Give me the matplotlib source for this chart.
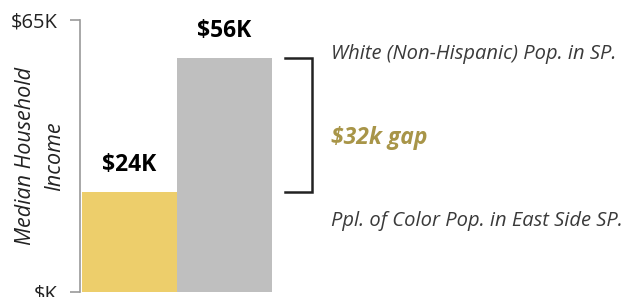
import matplotlib
matplotlib.use("Agg")
import matplotlib.pyplot as plt

# income values in $K
groups = ["Ppl. of Color Pop. in East Side SP.", "White (Non-Hispanic) Pop. in SP."]
income = [24, 56]
bar_labels = ["$24K", "$56K"]
bar_colors = ["#EDCE6B", "#BFBFBF"]
gap_label = "$32k gap"

plt.rcParams['font.family'] = ['Open Sans', 'DejaVu Sans']

fig = plt.figure(figsize=(6.33, 2.97), dpi=100)
ax = fig.add_axes([80 / 633, 1 - 292 / 297, 192 / 633, 272 / 297])

x = [0, 1]
ax.bar(x, income, width=1.0, color=bar_colors, linewidth=0)
for xi, v, lab in zip(x, income, bar_labels):
    ax.text(xi, v + 6.3, lab, ha='center', va='center', fontsize=16.5,
            fontweight='bold', color='black')

ax.set_xlim(-0.52, 1.5)
ax.set_ylim(0, 65)
ax.set_yticks([0, 65])
ax.set_yticklabels(["$K", "$65K"], fontsize=14.5, color='#222222')
ax.set_xticks([])
for s in ['top', 'right', 'bottom']:
    ax.spines[s].set_visible(False)
ax.spines['left'].set_color('#999999')
ax.spines['left'].set_linewidth(1.2)
ax.tick_params(axis='y', length=7, color='#999999', width=1.2, pad=9)
ax.set_ylabel("Median Household\nIncome", fontsize=15.5, style='italic',
              color='#222222', linespacing=1.45)
ax.yaxis.set_label_coords(-0.08, 0.5)

# bracket showing the gap
lo, hi = income
bx0, bx1 = 1.635, 1.92
ax.plot([bx0, bx1, bx1, bx0], [hi, hi, lo, lo], color='#222222', lw=1.8,
        clip_on=False, solid_joinstyle='miter')

tx = 2.12
ax.text(tx, hi + 0.8, groups[1], fontsize=14.5, style='italic',
        color='#3a3a3a', va='center', ha='left')
ax.text(tx, (hi + lo) / 2 - 3.3, gap_label, fontsize=16.5, style='italic',
        fontweight='bold', color='#A89548', va='center', ha='left')
ax.text(tx, lo - 7, groups[0], fontsize=14.5, style='italic',
        color='#3a3a3a', va='center', ha='left')

fig.savefig("out.png", dpi=100)
